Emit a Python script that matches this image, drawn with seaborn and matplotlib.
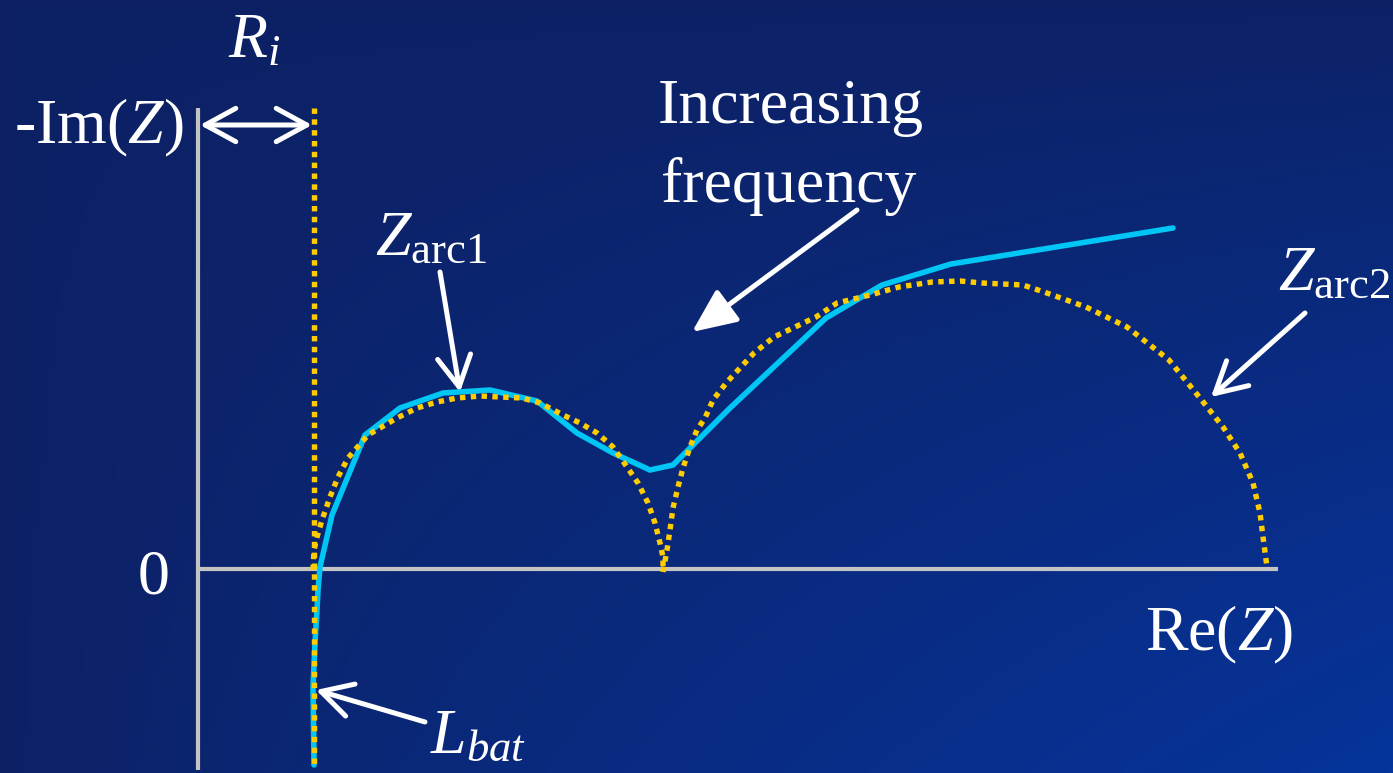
import numpy as np
import pandas as pd
import matplotlib
matplotlib.use("Agg")
import matplotlib.pyplot as plt
import seaborn as sns

# ---------------- data (Re in arbitrary units, -Im in arbitrary units) ----------------
arc1_re = [1.15, 1.16, 1.19, 1.24, 1.32, 1.40, 1.50, 1.70, 1.99, 2.19, 2.39, 2.59, 2.82,
           3.02, 3.24, 3.42, 3.65, 3.82, 3.99, 4.15, 4.29, 4.40, 4.50, 4.57, 4.62, 4.65, 4.65]
arc1_im = [-0.01, 0.19, 0.32, 0.49, 0.72, 0.92, 1.11, 1.34, 1.51, 1.61, 1.67, 1.71, 1.73,
           1.72, 1.71, 1.66, 1.54, 1.46, 1.36, 1.22, 1.02, 0.86, 0.66, 0.46, 0.26, 0.12, -0.03]

arc2_re = [4.65, 4.69, 4.72, 4.75, 4.80, 4.85, 4.92, 4.99, 5.07, 5.15, 5.29, 5.42, 5.56,
           5.76, 5.97, 6.18, 6.39, 6.72, 7.01, 7.34, 7.62, 7.84, 8.25, 8.46, 8.88, 9.29,
           9.71, 10.02, 10.25, 10.42, 10.55, 10.62, 10.65, 10.69]
arc2_im = [-0.03, 0.19, 0.39, 0.61, 0.82, 1.01, 1.22, 1.39, 1.51, 1.69, 1.87, 2.01, 2.16,
           2.32, 2.42, 2.52, 2.66, 2.74, 2.82, 2.87, 2.88, 2.86, 2.84, 2.77, 2.62, 2.42,
           2.09, 1.71, 1.42, 1.16, 0.86, 0.56, 0.32, 0.02]

ri_re = [1.16, 1.16]
ri_im = [4.61, -1.96]

meas_re = [1.16, 1.15, 1.17, 1.19, 1.20, 1.22, 1.34, 1.67, 2.02, 2.45, 2.92, 3.39, 3.79,
           4.15, 4.52, 4.75, 4.95, 5.32, 6.28, 6.84, 7.53, 9.75]
meas_im = [-1.96, -1.18, -0.74, -0.41, -0.21, 0.02, 0.54, 1.34, 1.61, 1.76, 1.79, 1.68, 1.36,
           1.16, 0.99, 1.04, 1.24, 1.61, 2.51, 2.84, 3.05, 3.41]

xaxis_re = [0.0, 10.80]
xaxis_im = [0.0, 0.0]
yaxis_re = [0.0, 0.0]
yaxis_im = [4.61, -2.01]

# ---------------- figure ----------------
W, H = 1393, 773
sns.set_theme(style="white")
plt.rcParams["font.family"] = ["Liberation Serif", "DejaVu Serif"]
plt.rcParams["mathtext.fontset"] = "custom"
plt.rcParams["mathtext.rm"] = "Liberation Serif"
plt.rcParams["mathtext.it"] = "Liberation Serif:italic"
plt.rcParams["mathtext.bf"] = "Liberation Serif:bold"

fig = plt.figure(figsize=(W / 100, H / 100), dpi=100)

# background gradient
bg = fig.add_axes([0, 0, 1, 1])
bg.set_axis_off()
gx = np.linspace(0, 1, 300)
gy = np.linspace(0, 1, 170)
X, Y = np.meshgrid(gx, gy)
w = np.clip(X * Y, 0, 1) ** 0.8
c0 = np.array([13, 33, 100]) / 255
c1 = np.array([6, 52, 155]) / 255
img = c0[None, None, :] * (1 - w[..., None]) + c1[None, None, :] * w[..., None]
bg.imshow(img, extent=[0, 1, 0, 1], aspect="auto", origin="upper")
bg.set_xlim(0, 1)
bg.set_ylim(0, 1)

ax = fig.add_axes([0, 0, 1, 1])
ax.set_facecolor("none")
ax.patch.set_alpha(0)
ax.set_xlim(-1.98, 11.95)
ax.set_ylim(-2.04, 5.69)
ax.set_axis_off()

gray = "#c4c4c4"
yellow = "#ffcc00"
cyan = "#00c6f5"

common = dict(ax=ax, sort=False, estimator=None, errorbar=None)

sns.lineplot(x=xaxis_re, y=xaxis_im, color=gray, lw=3.0, solid_capstyle="butt", **common)
sns.lineplot(x=yaxis_re, y=yaxis_im, color=gray, lw=3.0, solid_capstyle="butt", **common)

sns.lineplot(x=meas_re, y=meas_im, color=cyan, lw=4.0, solid_joinstyle="miter",
             zorder=3, **common)

dot = (0, (1.0, 1.0))
for xs, ys in [(ri_re, ri_im), (arc1_re, arc1_im), (arc2_re, arc2_im)]:
    sns.lineplot(x=xs, y=ys, color=yellow, lw=3.9, linestyle=dot,
                 dash_capstyle="butt", zorder=4, **common)


def P(x, y):
    return (x / W, 1 - y / H)


txt = dict(color="white", fontsize=46, transform=fig.transFigure)
fig.text(*P(228, 57), r"$R_i$", ha="left", va="baseline", **txt)
fig.text(*P(183, 143), r"-Im($Z$)", ha="right", va="baseline", **txt)
fig.text(*P(154, 594), "0", ha="center", va="baseline", **txt)
fig.text(*P(1145, 650), r"Re($Z$)", ha="left", va="baseline", **txt)
fig.text(*P(791, 123), "Increasing", ha="center", va="baseline", **txt)
fig.text(*P(789, 202), "frequency", ha="center", va="baseline", **txt)
fig.text(*P(375, 255), r"$Z_\mathrm{arc1}$", ha="left", va="baseline", **txt)
fig.text(*P(1278, 290), r"$Z_\mathrm{arc2}$", ha="left", va="baseline", **txt)
fig.text(*P(430, 753), r"$L_{bat}$", ha="left", va="baseline", **txt)


def arrow(x0, y0, x1, y1, style):
    ax.annotate("", xy=P(x1, y1), xytext=P(x0, y0),
                xycoords="figure fraction", textcoords="figure fraction",
                arrowprops=dict(arrowstyle=style, color="white", lw=3.6,
                                shrinkA=0, shrinkB=0, mutation_scale=20,
                                capstyle="round", joinstyle="round"))


open_head = "->,head_length=1.1,head_width=0.6"
arrow(200, 125, 312, 125, "<->,head_length=1.1,head_width=0.6")
arrow(440, 272, 460, 392, open_head)
arrow(1305, 313, 1211, 397, open_head)
arrow(425, 722, 316, 690, open_head)
arrow(857, 210, 692, 332, "-|>,head_length=1.35,head_width=0.6")

fig.savefig("out.png", dpi=100)
